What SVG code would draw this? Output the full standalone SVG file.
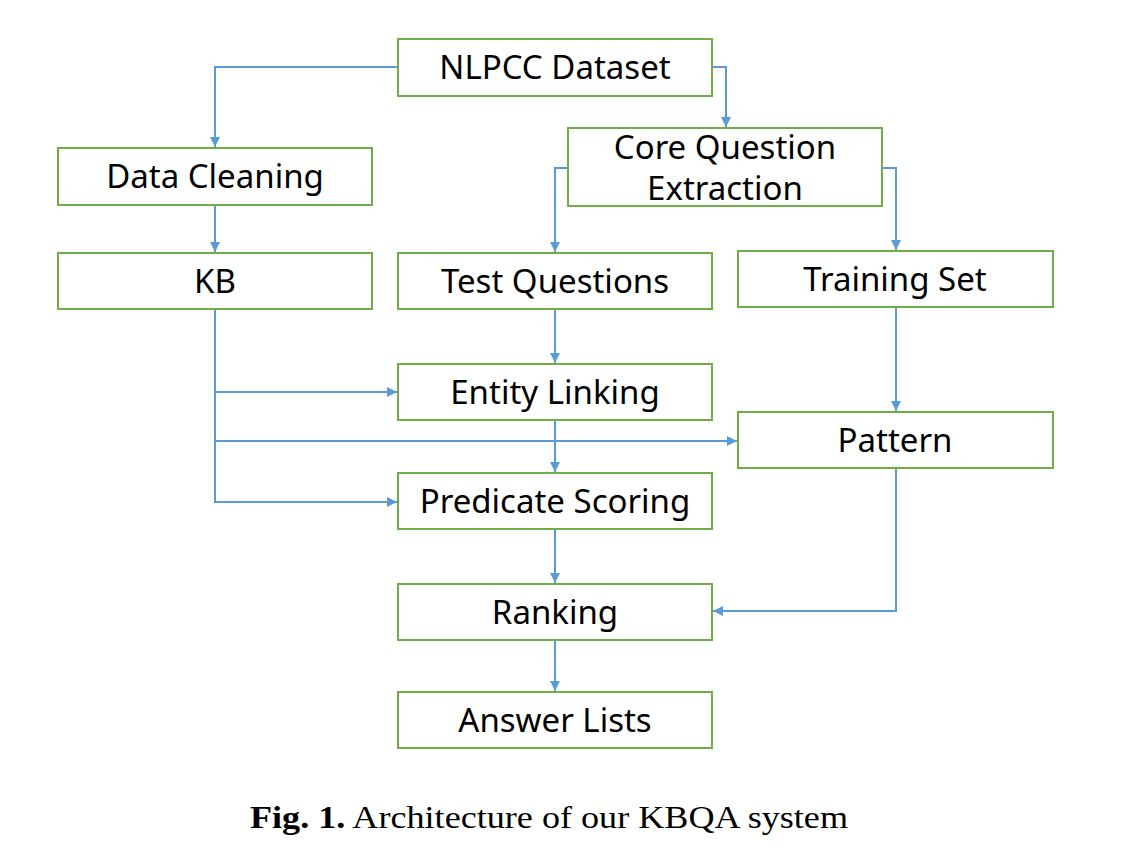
<svg xmlns="http://www.w3.org/2000/svg" width="1145" height="853" viewBox="0 0 1145 853">
<style>
.box{fill:#fff;stroke:#70ad47;stroke-width:2}
.lbl{font-family:"Noto Sans","Open Sans",sans-serif;font-size:33px;fill:#000;text-anchor:middle}
.con{fill:none;stroke:#5b9bd5;stroke-width:2}
.cap{font-family:"Liberation Serif","DejaVu Serif",serif;font-size:31px;fill:#000}
</style>
<defs>
<marker id="ah" viewBox="0 0 10 10" refX="10" refY="5" markerWidth="10" markerHeight="10" markerUnits="userSpaceOnUse" orient="auto">
<path d="M0,0 L10,5 L0,10 Z" fill="#5b9bd5"/>
</marker>
</defs>
<rect width="1145" height="853" fill="#fff"/>
<g id="connectors">
<path class="con" d="M398,67 H215 V147" marker-end="url(#ah)"/>
<path class="con" d="M712,67 H726 V127" marker-end="url(#ah)"/>
<path class="con" d="M215,205 V252" marker-end="url(#ah)"/>
<path class="con" d="M568,168 H555 V252" marker-end="url(#ah)"/>
<path class="con" d="M882,168 H896 V250" marker-end="url(#ah)"/>
<path class="con" d="M555,309 V363" marker-end="url(#ah)"/>
<path class="con" d="M215,309 V502 H397" marker-end="url(#ah)"/>
<path class="con" d="M215,392 H397" marker-end="url(#ah)"/>
<path class="con" d="M215,441 H737" marker-end="url(#ah)"/>
<path class="con" d="M555,420 V472" marker-end="url(#ah)"/>
<path class="con" d="M896,307 V411" marker-end="url(#ah)"/>
<path class="con" d="M896,468 V611 H713" marker-end="url(#ah)"/>
<path class="con" d="M555,529 V583" marker-end="url(#ah)"/>
<path class="con" d="M555,640 V691" marker-end="url(#ah)"/>
</g>
<g id="nlpcc"><rect class="box" x="398" y="39" width="314" height="57"/><text class="lbl" x="555" y="79">NLPCC Dataset</text></g>
<g id="datacleaning"><rect class="box" x="58" y="148" width="314" height="57"/><text class="lbl" x="215" y="188">Data Cleaning</text></g>
<g id="core"><rect class="box" x="568" y="128" width="314" height="78"/><text class="lbl" x="725" y="159">Core Question</text><text class="lbl" x="725" y="200">Extraction</text></g>
<g id="kb"><rect class="box" x="58" y="253" width="314" height="56"/><text class="lbl" x="215" y="293">KB</text></g>
<g id="testq"><rect class="box" x="398" y="253" width="314" height="56"/><text class="lbl" x="555" y="293">Test Questions</text></g>
<g id="training"><rect class="box" x="738" y="251" width="315" height="56"/><text class="lbl" x="895" y="291">Training Set</text></g>
<g id="entity"><rect class="box" x="398" y="364" width="314" height="56"/><text class="lbl" x="555" y="404">Entity Linking</text></g>
<g id="pattern"><rect class="box" x="738" y="412" width="315" height="56"/><text class="lbl" x="895" y="452">Pattern</text></g>
<g id="predicate"><rect class="box" x="398" y="473" width="314" height="56"/><text class="lbl" x="555" y="513">Predicate Scoring</text></g>
<g id="ranking"><rect class="box" x="398" y="584" width="314" height="56"/><text class="lbl" x="555" y="624">Ranking</text></g>
<g id="answer"><rect class="box" x="398" y="692" width="314" height="56"/><text class="lbl" x="555" y="732">Answer Lists</text></g>
<text class="cap" x="250" y="828" textLength="598" lengthAdjust="spacingAndGlyphs"><tspan font-weight="bold">Fig. 1.</tspan> Architecture of our KBQA system</text>
</svg>
